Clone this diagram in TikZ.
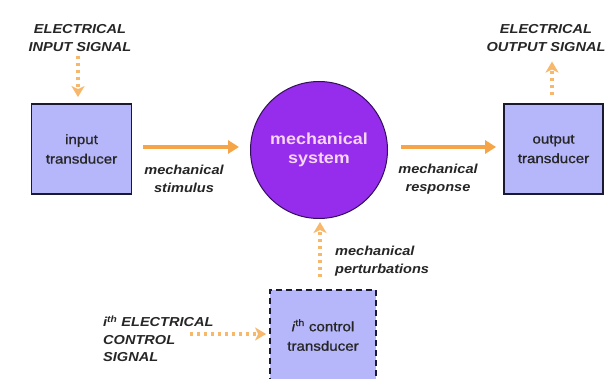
\documentclass[tikz,border=0pt]{standalone}
\usepackage{fontspec}
\setmainfont[FakeStretch=1.12]{Liberation Sans}
\newfontfamily\boxfam[FakeStretch=1.12,FakeBold=1]{Liberation Sans}
\usetikzlibrary{arrows.meta}
\definecolor{boxfill}{RGB}{182,182,250}
\definecolor{boxline}{RGB}{25,25,50}
\definecolor{sysfill}{RGB}{150,44,236}
\definecolor{sysline}{RGB}{50,15,90}
\definecolor{systext}{RGB}{246,214,246}
\definecolor{flowor}{RGB}{245,165,72}
\definecolor{dotor}{RGB}{247,184,108}
\tikzset{
  tbox/.style={draw=boxline, line width=1.8pt, fill=boxfill, minimum width=100pt, minimum height=90pt,
    align=center, inner sep=0pt, font=\boxfam\fontsize{13.5}{19.5}\selectfont, text=black!85},
  ctrlbox/.style={tbox, dashed, dash pattern=on 6pt off 4pt, minimum width=106pt},
  sysc/.style={circle, draw=sysline, line width=1pt, fill=sysfill, minimum size=137pt, inner sep=0pt,
    align=center, text=systext, font=\fontsize{16}{19.5}\selectfont\bfseries},
  lbl/.style={align=center, inner sep=2pt, text=black!85, font=\fontsize{13}{17.5}\selectfont\bfseries\itshape},
  flow/.style={draw=flowor, line width=4pt, -{Triangle[length=11pt,width=13pt]}},
  dotflow/.style={draw=dotor, line width=3.5pt, dash pattern=on 3pt off 4pt,
    -{Stealth[length=11pt,width=13pt,inset=3pt]}}
}
\begin{document}
\begin{tikzpicture}[x=1pt,y=-1pt]
\useasboundingbox (0,0) rectangle (607,379);
\fill[white] (0,0) rectangle (607,379);
% boxes
\node[tbox] (inbox) at (81.5,149) {input\\transducer};
\node[tbox, minimum width=99pt] (outbox) at (553.5,149) {output\\transducer};
\node[sysc] (sys) at (319,150) {mechanical\\system};
\node[ctrlbox] (ctrl) at (323,335) {\textit{i}\textsuperscript{th} control\\transducer};
% labels
\node[lbl] (insig) at (80,38) {ELECTRICAL\\INPUT SIGNAL};
\node[lbl] (outsig) at (546,38) {ELECTRICAL\\OUTPUT SIGNAL};
\node[lbl] (stim) at (184,179) {mechanical\\stimulus};
\node[lbl] (resp) at (438,179) {mechanical\\response};
\node[lbl, align=left, anchor=west] (pert) at (333,261) {mechanical\\perturbations};
\node[lbl, align=left, anchor=west] (ctrlsig) at (101,339) {\textit{i}\textsuperscript{th} ELECTRICAL\\CONTROL\\SIGNAL};
\coordinate (cs) at (190,334);
% connectors
\draw[flow, shorten <=11pt, shorten >=11pt] (inbox.east |- 0,147) -- (sys.west |- 0,147);
\draw[flow, shorten <=13pt, shorten >=7pt] (sys.east |- 0,147) -- (outbox.west |- 0,147);
\draw[dotflow, shorten <=2pt, shorten >=6pt] (insig.south -| 78,0) -- (inbox.north -| 78,0);
\draw[dotflow, shorten <=8pt, shorten >=8pt] (outbox.north -| 552,0) -- (outsig.south -| 552,0);
\draw[dotflow, shorten <=12pt, shorten >=3pt] (ctrl.north -| 320,0) -- (sys.south -| 320,0);
\draw[dotflow, shorten >=3pt] (cs) -- (ctrl.west |- cs);
\end{tikzpicture}
\end{document}
